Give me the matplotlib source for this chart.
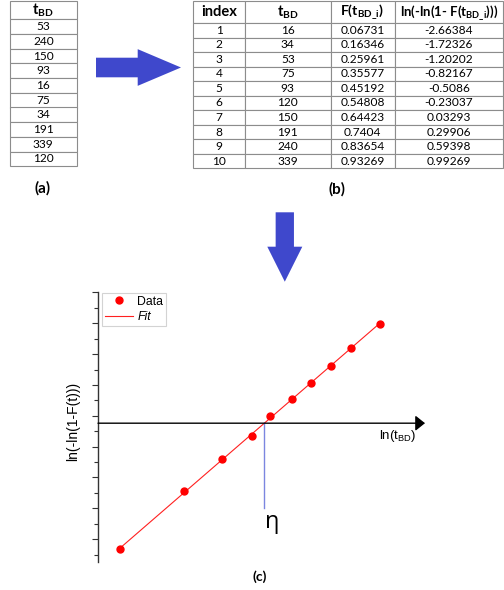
import numpy as np
import matplotlib.pyplot as plt
from matplotlib.patches import FancyArrow

plt.rcParams['mathtext.fontset'] = 'custom'
plt.rcParams['mathtext.rm'] = 'Lato'
plt.rcParams['mathtext.bf'] = 'Lato:bold'
plt.rcParams['mathtext.sf'] = 'Liberation Sans'

# data of the three panels
tBD_raw = [53, 240, 150, 93, 16, 75, 34, 191, 339, 120]
index = [1, 2, 3, 4, 5, 6, 7, 8, 9, 10]
tBD_sorted = [16, 34, 53, 75, 93, 120, 150, 191, 240, 339]
F_tBD = [0.06731, 0.16346, 0.25961, 0.35577, 0.45192, 0.54808, 0.64423, 0.7404, 0.83654, 0.93269]
lnln_F = [-2.66384, -1.72326, -1.20202, -0.82167, -0.5086, -0.23037, 0.03293, 0.29906, 0.59398, 0.99269]
headers_b = ['index', r'$\mathbf{t}_\mathbf{BD}$', r'F(t$_\mathbf{BD\_i}$)',
             r'ln(-ln(1- F(t$_\mathbf{BD\_i}$)))']
axis_level = -0.62   # where the horizontal ln(t_BD) axis is drawn
eta_bottom = -2.0

W, H = 504, 590
BLUE = '#3f48cc'
EDGE = '#8c8c8c'

fig = plt.figure(figsize=(W / 100, H / 100), dpi=100)

# overlay in pixel coordinates for the tables and arrows
ax0 = fig.add_axes([0, 0, 1, 1])
ax0.set_xlim(0, W)
ax0.set_ylim(H, 0)
ax0.axis('off')


def pix_bbox(x0, y0, x1, y1):
    return [x0 / W, 1 - y1 / H, (x1 - x0) / W, (y1 - y0) / H]


def style_table(tbl, head_h, row_h, widths, head_sizes):
    tbl.auto_set_font_size(False)
    for (r, c), cell in tbl.get_celld().items():
        cell.set_height(head_h if r == 0 else row_h)
        cell.set_width(widths[c])
        cell.set_edgecolor(EDGE)
        cell.set_linewidth(0.8)
        txt = cell.get_text()
        txt.set_fontfamily('Lato')
        if r == 0:
            txt.set_fontsize(head_sizes[c])
            txt.set_fontweight('bold')
        else:
            txt.set_fontsize(8.6)


# table (a)
tab_a = ax0.table(cellText=[[str(v)] for v in tBD_raw],
                  colLabels=[r'$\mathbf{t}_\mathbf{BD}$'],
                  cellLoc='center', bbox=pix_bbox(10, 1, 76.7, 166.3))
style_table(tab_a, 18.3, 14.7, [66.7], [10.5])

# table (b)
rows_b = [[str(i), str(t), str(f), str(v)] for i, t, f, v in zip(index, tBD_sorted, F_tBD, lnln_F)]
tab_b = ax0.table(cellText=rows_b, colLabels=headers_b, cellLoc='center',
                  bbox=pix_bbox(193.3, 1, 503, 168.3))
style_table(tab_b, 22.3, 14.6, [51.7, 85.5, 64, 108.5], [10.5, 10.5, 10.2, 9.5])

fig.text(42.7 / W, 1 - 188 / H, '(a)', ha='center', va='center',
         family='Lato', fontweight='bold', fontsize=11)
fig.text(336.7 / W, 1 - 189 / H, '(b)', ha='center', va='center',
         family='Lato', fontweight='bold', fontsize=11)
fig.text(260 / W, 1 - 577 / H, '(c)', ha='center', va='center',
         family='Lato', fontweight='bold', fontsize=10)

# big blue arrows
ax0.add_patch(FancyArrow(96, 67.5, 85, 0, width=19.6, head_width=36.7, head_length=43.3,
                         length_includes_head=True, color=BLUE, lw=0))
ax0.add_patch(FancyArrow(284.8, 212.3, 0, 69.4, width=18.3, head_width=35, head_length=35,
                         length_includes_head=True, color=BLUE, lw=0))

# plot (c)
ax = fig.add_axes([98 / W, 1 - 562 / H, (425 - 98) / W, (562 - 292.4) / H])
ax.patch.set_alpha(0)
ax.set_xlim(2.511, 6.355)
ax.set_ylim(-2.87, 1.5)
for s in ['top', 'right', 'bottom']:
    ax.spines[s].set_visible(False)
ax.spines['left'].set_color('#333333')
ax.spines['left'].set_linewidth(1.0)
ax.set_xticks([])
ax.set_yticks(np.arange(-2.5, 1.51, 0.5))
ax.set_yticks(np.arange(-2.75, 1.3, 0.5), minor=True)
ax.tick_params(axis='y', which='major', length=4, width=0.8, color='#333333', labelleft=False)
ax.tick_params(axis='y', which='minor', length=2.6, width=0.8, color='#333333')

x = np.log(tBD_sorted)
y = np.array(lnln_F)
m, b = np.polyfit(x, y, 1)
xfit = np.array([x.min(), x.max()])
eta_x = (axis_level - b) / m

# horizontal axis with arrow head
ax.annotate('', xy=(6.355, axis_level), xytext=(2.511, axis_level),
            arrowprops=dict(arrowstyle='-|>,head_length=0.4,head_width=0.32',
                            mutation_scale=14.4, color='black', lw=1.0,
                            shrinkA=0, shrinkB=0))

fit_line, = ax.plot(xfit, m * xfit + b, '-', color='#ff2020', lw=0.8, label='Fit')
data_pts, = ax.plot(x, y, 'o', color='red', ms=5, label='Data', zorder=3)

ax.plot([eta_x, eta_x], [axis_level, eta_bottom], color='#7b86e0', lw=1.0)
ax.text(eta_x + 0.095, -2.32, 'η', ha='center', va='baseline', fontsize=17,
        family=['Open Sans', 'DejaVu Sans'])

ax.text(5.815, -0.83, r'ln(t$_\mathsf{BD}$)', ha='left', va='center',
        family='Liberation Sans', fontsize=9.5)
fig.text(72.7 / W, 1 - 421 / H, 'ln(-ln(1-F(t)))', rotation=90, ha='center', va='center',
         family='Liberation Sans', fontsize=10)

leg = ax.legend(handles=[data_pts, fit_line], loc='upper left',
                bbox_to_anchor=(102.3 / W, 1 - 292.7 / H), bbox_transform=fig.transFigure,
                borderaxespad=0, frameon=True, fancybox=False, edgecolor='#c8c8c8',
                prop={'family': 'Liberation Sans', 'size': 8.8}, handlelength=2.3,
                handletextpad=0.3, borderpad=0.25, labelspacing=0.25, numpoints=1)
leg.get_frame().set_linewidth(0.8)
leg.get_texts()[1].set_style('italic')

fig.savefig('out.png', dpi=100)
